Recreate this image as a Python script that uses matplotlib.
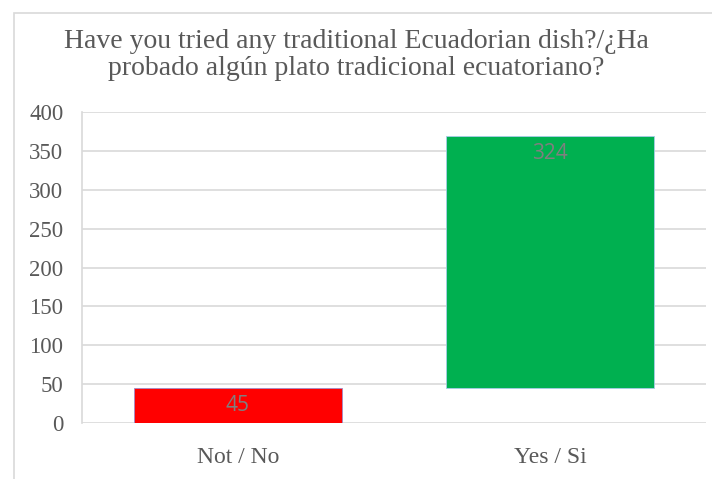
import matplotlib
matplotlib.use("Agg")
import matplotlib.pyplot as plt
from matplotlib.patches import Rectangle
import numpy as np

categories = ["Not / No", "Yes / Si"]
values = [45, 324]
colors = ["#ff0000", "#00b050"]
edge_colors = ["#a08cc8", "#a8cce8"]
title = "Have you tried any traditional Ecuadorian dish?/¿Ha\nprobado algún plato tradicional ecuatoriano?"
yticks = [0, 50, 100, 150, 200, 250, 300, 350, 400]

W, H = 712, 479
fig = plt.figure(figsize=(W / 100, H / 100), dpi=100)
fig.patch.set_facecolor("white")

# outer chart frame (extends past right/bottom of image)
fig.patches.append(Rectangle((14 / W, -0.1), 1.2, (H - 13) / H + 0.1,
                             transform=fig.transFigure, fill=False,
                             edgecolor="#d9d9d9", linewidth=1.2))

left, right = 82 / W, 706 / W
bottom, top = (H - 423) / H, (H - 112) / H
ax = fig.add_axes([left, bottom, right - left, top - bottom])

bases = np.concatenate([[0], np.cumsum(values)[:-1]])
x = np.arange(len(categories))
bars = ax.bar(x, values, bottom=bases, width=0.667, color=colors,
              edgecolor=edge_colors, linewidth=0.6, zorder=3)

for xi, b, v in zip(x, bases, values):
    ax.annotate(str(v), xy=(xi, b + v), xytext=(0, -5),
                textcoords="offset points", ha="center", va="top",
                fontsize=15, color="#7f7f7f", family="Open Sans", zorder=4)

ax.set_xlim(-0.5, len(categories) - 0.5)
ax.set_ylim(0, 400)
ax.set_yticks(yticks)
ax.set_yticklabels([str(t) for t in yticks])
ax.set_xticks(x)
ax.set_xticklabels(categories)
ax.grid(axis="y", color="#d9d9d9", linewidth=1.2, zorder=0)
for s in ["top", "right", "bottom"]:
    ax.spines[s].set_visible(False)
ax.spines["left"].set_color("#d9d9d9")
ax.spines["left"].set_linewidth(1.2)
ax.tick_params(axis="both", length=0, labelcolor="#595959")
ax.tick_params(axis="y", pad=13.5, labelsize=16.5)
ax.tick_params(axis="x", pad=17, labelsize=17)
for lab in ax.get_xticklabels() + ax.get_yticklabels():
    lab.set_family("Liberation Serif")

fig.text(356 / W, (H - 55) / H, title, ha="center", va="center",
         fontsize=20, color="#595959", family="Liberation Serif",
         linespacing=1.1)

fig.savefig("out.png", dpi=100)
